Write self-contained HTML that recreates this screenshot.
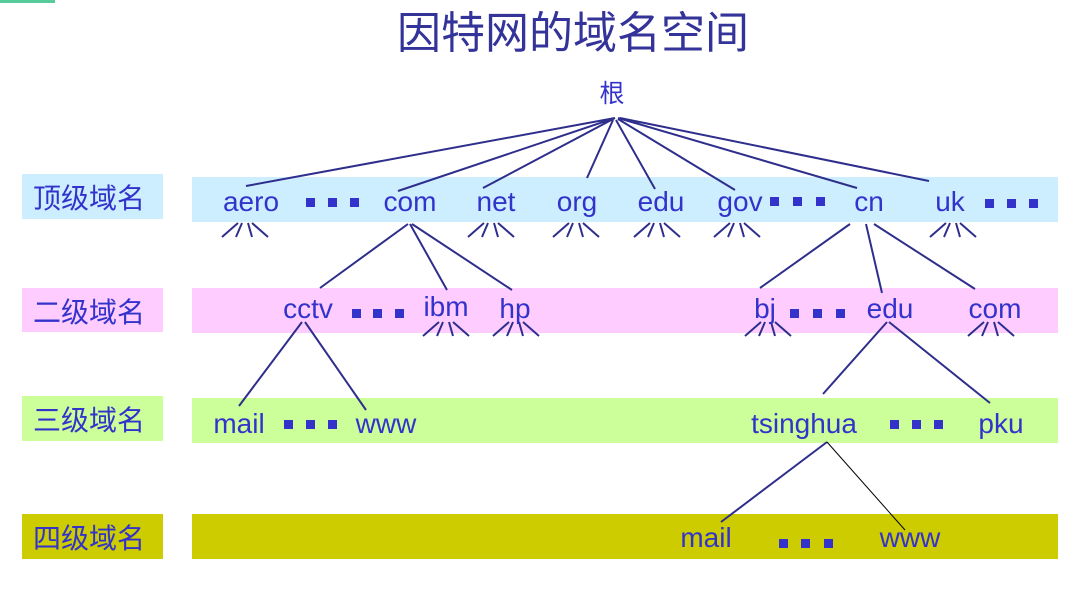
<!DOCTYPE html>
<html><head><meta charset="utf-8"><style>
html,body{margin:0;padding:0;background:#fff;}
svg{display:block}
text{font-family:"Liberation Sans","Noto Sans CJK SC",sans-serif;fill:#3333cc}
.l{stroke:#2e2e8c;stroke-width:2;fill:none}
.d{fill:#3333cc}
</style></head><body>
<svg width="1088" height="590" viewBox="0 0 1088 590">
<rect x="0" y="0" width="55" height="3" fill="#55cc99"/>
<text x="573" y="48" font-size="44" text-anchor="middle" style="fill:#333399">因特网的域名空间</text>
<text x="612" y="102" font-size="25" text-anchor="middle">根</text>
<!-- bands -->
<rect x="22" y="174" width="141" height="45" fill="#cceeff"/>
<rect x="192" y="177" width="866" height="45" fill="#cceeff"/>
<rect x="22" y="288" width="141" height="44" fill="#ffccff"/>
<rect x="192" y="288" width="866" height="45" fill="#ffccff"/>
<rect x="22" y="396" width="141" height="45" fill="#ccff99"/>
<rect x="192" y="398" width="866" height="45" fill="#ccff99"/>
<rect x="22" y="514" width="141" height="45" fill="#cccc00"/>
<rect x="192" y="514" width="866" height="45" fill="#cccc00"/>
<g font-size="28">
<text x="33" y="208">顶级域名</text>
<text x="33" y="322">二级域名</text>
<text x="33" y="430">三级域名</text>
<text x="33" y="548">四级域名</text>
</g>
<!-- root lines -->
<g class="l">
<path d="M615 118L246 186M615 118L398 191M615 118L483 188M613 120L587 178M616 120L655 189M618 119L735 190M618 118L857 188M620 118L929 181"/>
<path d="M408 224L320 288M410 224L447 290M412 224L512 290"/>
<path d="M302 322L239 406M305 322L366 410"/>
<path d="M850 224L760 288M866 224L882 293M874 224L975 289"/>
<path d="M887 322L823 394M889 322L990 403"/>
<path d="M827 442L721 522"/>
</g>
<path d="M827 442L905 530" stroke="#000" stroke-width="1"/>
<!-- fans -->
<defs><g id="f" class="l"><path d="M-6 0L-22 14M-2 0L-8 14M4 0L8 14M8 0L24 14"/></g></defs>
<use href="#f" x="244" y="223"/>
<use href="#f" x="490" y="223"/>
<use href="#f" x="575" y="223"/>
<use href="#f" x="656" y="223"/>
<use href="#f" x="736" y="223"/>
<use href="#f" x="952" y="223"/>
<use href="#f" x="445" y="322"/>
<use href="#f" x="515" y="322"/>
<use href="#f" x="767" y="322"/>
<use href="#f" x="990" y="322"/>
<!-- labels -->
<g font-size="28" text-anchor="middle">
<text x="251" y="211">aero</text>
<text x="410" y="211">com</text>
<text x="496" y="211">net</text>
<text x="577" y="211">org</text>
<text x="661" y="211">edu</text>
<text x="740" y="211">gov</text>
<text x="869" y="211">cn</text>
<text x="950" y="211">uk</text>
<text x="308" y="318">cctv</text>
<text x="446" y="316">ibm</text>
<text x="515" y="318">hp</text>
<text x="765" y="318">bj</text>
<text x="890" y="318">edu</text>
<text x="995" y="318">com</text>
<text x="239" y="433">mail</text>
<text x="386" y="433">www</text>
<text x="804" y="433">tsinghua</text>
<text x="1001" y="433">pku</text>
<text x="706" y="547">mail</text>
<text x="910" y="547">www</text>
</g>
<!-- dots -->
<g class="d">
<rect x="306" y="198" width="9" height="9"/><rect x="328" y="198" width="9" height="9"/><rect x="350" y="198" width="9" height="9"/>
<rect x="770" y="197" width="9" height="9"/><rect x="793" y="197" width="9" height="9"/><rect x="816" y="197" width="9" height="9"/>
<rect x="985" y="199" width="9" height="9"/><rect x="1007" y="199" width="9" height="9"/><rect x="1029" y="199" width="9" height="9"/>
<rect x="352" y="309" width="9" height="9"/><rect x="373" y="309" width="9" height="9"/><rect x="395" y="309" width="9" height="9"/>
<rect x="790" y="309" width="9" height="9"/><rect x="813" y="309" width="9" height="9"/><rect x="836" y="309" width="9" height="9"/>
<rect x="284" y="420" width="9" height="9"/><rect x="306" y="420" width="9" height="9"/><rect x="328" y="420" width="9" height="9"/>
<rect x="890" y="420" width="9" height="9"/><rect x="912" y="420" width="9" height="9"/><rect x="934" y="420" width="9" height="9"/>
<rect x="779" y="539" width="9" height="9"/><rect x="801" y="539" width="9" height="9"/><rect x="824" y="539" width="9" height="9"/>
</g>
</svg>
</body></html>
